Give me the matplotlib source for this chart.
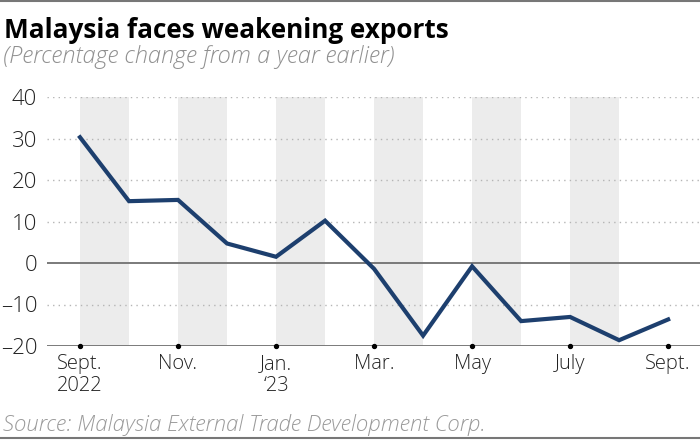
import matplotlib.pyplot as plt
import numpy as np

# data
months = ['Sep22', 'Oct22', 'Nov22', 'Dec22', 'Jan23', 'Feb23', 'Mar23',
          'Apr23', 'May23', 'Jun23', 'Jul23', 'Aug23', 'Sep23']
exports = [30.3, 14.9, 15.2, 4.7, 1.5, 10.2, -1.4, -17.5, -0.8, -14.0, -13.0, -18.6, -13.6]
tick_pos = [0, 2, 4, 6, 8, 10, 12]
tick_labels = ['Sept.\n2022', 'Nov.', 'Jan.\n\u201823', 'Mar.', 'May', 'July', 'Sept.']
y_ticks = [-20, -10, 0, 10, 20, 30, 40]

plt.rcParams['font.family'] = ['Open Sans', 'DejaVu Sans']

fig = plt.figure(figsize=(7, 4.43), dpi=100)
ax = fig.add_axes([47/700, (443-346)/443, 653/700, 249/443])

x = np.arange(len(months))

# shaded bands
for m in range(0, 12, 2):
    ax.axvspan(m, m + 1, color='#ececec', lw=0, zorder=0)

# grid
for v in [-10, 10, 20, 30, 40]:
    ax.axhline(v, color='#b5b5b5', lw=1, ls=(0, (1, 3)), zorder=1)
ax.axhline(0, color='#707070', lw=1.3, zorder=2)
ax.axhline(-20, color='#707070', lw=1.3, zorder=2)

ax.plot(x, exports, color='#1d3f6e', lw=3, zorder=3, solid_joinstyle='miter')
ax.scatter(tick_pos, [-20] * len(tick_pos), s=8, color='black', zorder=4, clip_on=False)

ax.set_xlim(-0.673, 12.65)
ax.set_ylim(-20, 40)
for s in ax.spines.values():
    s.set_visible(False)
ax.set_xticks(tick_pos)
ax.set_xticklabels(tick_labels, fontsize=14.5, color='#222222', linespacing=1.1, fontweight='light')
ax.set_yticks(y_ticks)
ax.set_yticklabels([str(v).replace('-', '\u2013') for v in y_ticks], fontsize=16,
                   color='#222222', fontweight='light')
ax.tick_params(length=0, pad=7)
ax.tick_params(axis='x', pad=6)

fig.text(0.006, 0.914, 'Malaysia faces weakening exports', fontsize=18.8, fontweight='bold',
         color='black', va='baseline')
fig.text(0.004, 0.858, '(Percentage change from a year earlier)', fontsize=17, style='italic',
         fontweight='light', color='#909090', va='baseline')
fig.text(0.004, 0.026, 'Source: Malaysia External Trade Development Corp.', fontsize=16, style='italic',
         fontweight='light', color='#9a9a9a', va='baseline')

fig.add_artist(plt.Line2D([0, 1], [0.998, 0.998], color='#777777', lw=1.5))
fig.add_artist(plt.Line2D([0, 1], [0.011, 0.011], color='#777777', lw=1.5))

fig.savefig('out.png', dpi=100)
